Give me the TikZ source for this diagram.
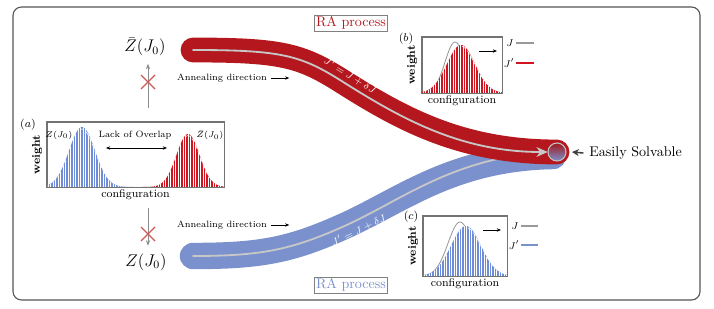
\documentclass[tikz,border=0pt]{standalone}
\usepackage{amsmath,amssymb}
\usepackage{xcolor}
\usepackage{tikz}
\usetikzlibrary{arrows.meta,positioning,shadings}

\definecolor{tubered}{RGB}{180,24,30}
\definecolor{tubeblue}{RGB}{122,145,206}
\definecolor{histred}{RGB}{210,20,30}
\definecolor{histblue}{RGB}{110,140,215}
\definecolor{crossred}{RGB}{205,90,90}
\definecolor{framegray}{RGB}{85,85,85}

\begin{document}
\begin{tikzpicture}[x=0.025cm, y=-0.025cm,
    declare function={bell(\t,\m,\s,\a)=\a*exp(-0.5*((\t-\m)/\s)*((\t-\m)/\s));},
    tube/.style={line width=0.62cm, line cap=round},
    spine/.style={line width=1.3pt, draw=black!22, line cap=round},
    tubelabel/.style={text=white, sloped, font=\fontsize{7.5}{8.5}\selectfont, inner sep=0pt},
    histbox/.style={rectangle, draw=black!55, line width=0.5pt, inner sep=0pt},
    axlabel/.style={font=\fontsize{8}{9}\selectfont, inner sep=1pt},
    tinytext/.style={font=\fontsize{6.5}{7.5}\selectfont, inner sep=0pt},
    procbox/.style={rectangle, draw=black!50, line width=0.4pt, inner sep=1.2pt},
    garr/.style={-{Stealth[length=4pt,width=3pt]}, draw=black!45, line width=0.6pt},
    arr/.style={-{Stealth[length=3pt,width=2.4pt]}, line width=0.5pt},
    cross/.style={crossred, line width=1pt}
]
\useasboundingbox (0,0) rectangle (714,308);

%% frame
\draw[framegray, line width=0.8pt, rounded corners=6pt] (13,7) rectangle (700,300);

%% end point and tubes
\coordinate (rstart) at (193,50);
\coordinate (bstart) at (193,256);
\node[circle, minimum size=0.45cm, inner sep=0pt] (goal) at (557,152) {};

\draw[tube, tubeblue, line width=0.66cm] (bstart) .. controls (260,256) and (290,250) .. (340,228)
      .. controls (400,202) and (450,158) .. (553,156);
\draw[spine] (bstart) .. controls (260,256) and (290,250) .. (340,228)
      .. controls (400,202) and (450,158) .. (goal.west)
      node[tubelabel, pos=0.08, below=3pt] (lblblue) {$J' = J + \delta J$};
\draw[tube, tubered] (rstart) .. controls (280,50) and (300,55) .. (340,80)
      .. controls (400,118) and (460,152) .. (goal.center);
\draw[spine, -{Stealth[length=8pt,width=7pt]}] (rstart) .. controls (280,50) and (300,55) .. (340,80)
      .. controls (400,118) and (460,152) .. (goal.west)
      node[tubelabel, pos=0.03, above=2.5pt] (lblred) {$J' = J + \delta J$};
\node[circle, minimum size=0.45cm, inner sep=0pt, draw=black!25, line width=0.8pt,
      top color=tubered!90!black, bottom color=tubeblue] at (goal) {};

%% process labels
\node[procbox, text=tubered]  (rared)  at (351,23)  {RA process};
\node[procbox, text=tubeblue] (rablue) at (351,285) {RA process};

%% easily solvable
\node[anchor=west, inner sep=0pt] (easy) at (589,153) {Easily Solvable};
\draw[-{Stealth[length=5pt,width=5pt]}, line width=1.1pt, black!75]
      ([xshift=-4pt]easy.west) -- ([xshift=4pt]goal.east);

%% annealing direction
\node[tinytext] (annealtop) at (222,78)  {Annealing direction};
\node[tinytext] (annealbot) at (222,225) {Annealing direction};
\draw[arr] ([xshift=3pt]annealtop.east) -- ++(18,0);
\draw[arr] ([xshift=3pt]annealbot.east) -- ++(18,0);

%% partition functions
\node[font=\large] (zbar) at (145,47)  {$\bar{Z}(J_0)$};
\node[font=\large] (zlow) at (146,262) {$Z(J_0)$};
\coordinate (upfoot) at (148,108);
\coordinate (downtop) at (148,208);
\draw[garr] (upfoot) -- ([yshift=-2pt]upfoot |- zbar.south);
\draw[garr] (downtop) -- ([yshift=2pt]downtop |- zlow.north);
\draw[cross] (141,75) -- (155,89) (141,89) -- (155,75);
\draw[cross] (141,227) -- (155,241) (141,241) -- (155,227);

%% (a) histogram
\node[histbox, minimum width=4.425cm, minimum height=1.625cm] (boxa) at (135.5,154.5) {};
\begin{scope}
  \clip plot[domain=47:134, samples=60] ({\x},{187-bell(\x,82,13,60)}) -- (134,187) -- (47,187) -- cycle;
  \fill[histblue] (47,120) rectangle (134,187);
  \foreach \xx in {48,50.5,...,134} \draw[white, line width=0.35pt] (\xx,120) -- (\xx,187);
\end{scope}
\begin{scope}
  \clip plot[domain=142:224, samples=60] ({\x},{187-bell(\x,188,11.5,53)}) -- (224,187) -- (142,187) -- cycle;
  \fill[histred] (142,120) rectangle (224,187);
  \foreach \xx in {143,145.5,...,224} \draw[white, line width=0.35pt] (\xx,120) -- (\xx,187);
\end{scope}
\draw[white, densely dashed, line width=0.4pt] plot[domain=80:118, samples=30] ({\x},{186-0.95*bell(\x,82,13,60)});
\draw[white, densely dashed, line width=0.4pt] plot[domain=186:220, samples=30] ({\x},{186-0.95*bell(\x,188,11.5,53)});
\draw[black!55, line width=0.5pt] (boxa.south west) rectangle (boxa.north east);
\node[axlabel, below=0.5pt of boxa] (cfga) {configuration};
\node[axlabel, rotate=90, anchor=south] (wta) at ([xshift=-2pt]boxa.west) {\textbf{weight}};
\node[axlabel] (taga) at (28,125) {$(a)$};
\node[tinytext] (za) at (59,135) {$Z(J_0)$};
\node[tinytext] (zba) at (210,135) {$\bar{Z}(J_0)$};
\node[tinytext] (overlap) at (135,135) {Lack of Overlap};
\coordinate (ovl) at (106,148);
\coordinate (ovr) at (167,148);
\draw[{Stealth[length=3pt,width=2.4pt]}-{Stealth[length=3pt,width=2.4pt]}, line width=0.5pt] (ovl) -- (ovr);

%% (b) histogram
\node[histbox, minimum width=2cm, minimum height=1.4cm] (boxb) at (462,65) {};
\draw[black!40, line width=0.6pt] plot[domain=422:502, samples=60] ({\x},{93-bell(\x,455,10,51)});
\begin{scope}
  \clip plot[domain=422:502, samples=60] ({\x},{93-bell(\x,461,14,48)}) -- (502,93) -- (422,93) -- cycle;
  \fill[histred] (422,37) rectangle (502,93);
  \foreach \xx in {423,425.5,...,502} \draw[white, line width=0.35pt] (\xx,37) -- (\xx,93);
\end{scope}
\draw[white, densely dashed, line width=0.4pt] plot[domain=462:497, samples=30] ({\x},{92-0.95*bell(\x,461,14,48)});
\draw[black!55, line width=0.5pt] (boxb.south west) rectangle (boxb.north east);
\node[axlabel, below=0.5pt of boxb] (cfgb) {configuration};
\node[axlabel, rotate=90, anchor=south] (wtb) at ([xshift=-2pt]boxb.west) {\textbf{weight}};
\node[axlabel] (tagb) at (406,39) {$(b)$};
\draw[arr] (479,51) -- (497,51);
\node[tinytext, font=\fontsize{7}{8}\selectfont] (jb) at (510,43) {$J$};
\node[tinytext, font=\fontsize{7}{8}\selectfont] (jpb) at (509,63) {$J'$};
\draw[black!40, line width=0.9pt] (516,43) -- (534,43);
\draw[histred, line width=0.9pt] (516,63) -- (534,63);

%% (c) histogram
\node[histbox, minimum width=2.1cm, minimum height=1.5cm] (boxc) at (465,246) {};
\draw[black!40, line width=0.6pt] plot[domain=423:507, samples=60] ({\x},{276-bell(\x,460,12,54)});
\begin{scope}
  \clip plot[domain=423:507, samples=60] ({\x},{276-bell(\x,466,15,50)}) -- (507,276) -- (423,276) -- cycle;
  \fill[histblue] (423,216) rectangle (507,276);
  \foreach \xx in {424,426.5,...,507} \draw[white, line width=0.35pt] (\xx,216) -- (\xx,276);
\end{scope}
\draw[white, densely dashed, line width=0.4pt] plot[domain=468:504, samples=30] ({\x},{275-0.95*bell(\x,466,15,50)});
\draw[black!55, line width=0.5pt] (boxc.south west) rectangle (boxc.north east);
\node[axlabel, below=0.5pt of boxc] (cfgc) {configuration};
\node[axlabel, rotate=90, anchor=south] (wtc) at ([xshift=-2pt]boxc.west) {\textbf{weight}};
\node[axlabel] (tagc) at (411,217) {$(c)$};
\draw[arr] (483,230) -- (501,230);
\node[tinytext, font=\fontsize{7}{8}\selectfont] (jc) at (515,226) {$J$};
\node[tinytext, font=\fontsize{7}{8}\selectfont] (jpc) at (514,245) {$J'$};
\draw[black!40, line width=0.9pt] (521,226) -- (538,226);
\draw[tubeblue, line width=0.9pt] (521,245) -- (538,245);

\end{tikzpicture}
\end{document}
